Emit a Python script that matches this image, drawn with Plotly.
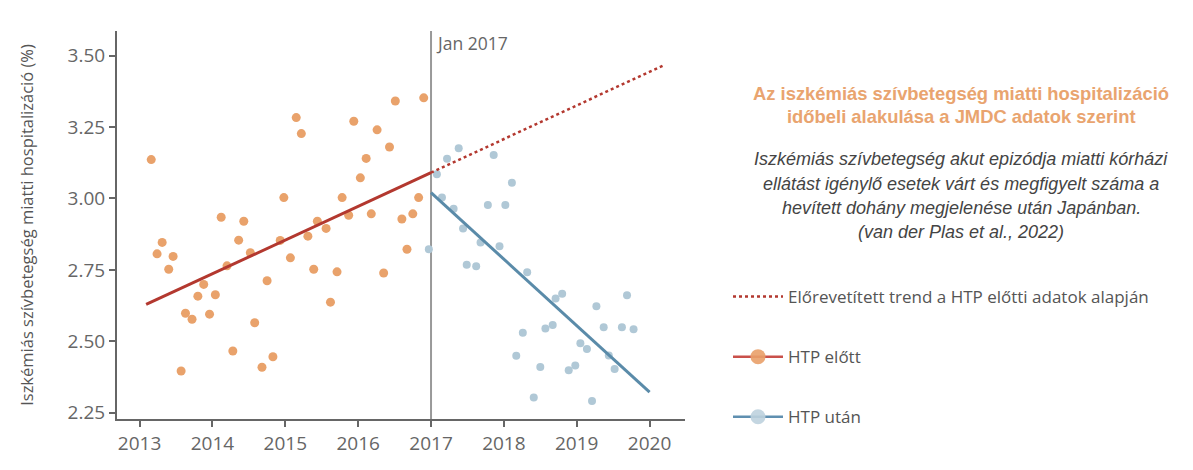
import plotly.graph_objects as go

# ---------------- data ----------------
pre_t = [2013.16, 2013.24, 2013.31, 2013.40, 2013.46, 2013.57, 2013.63, 2013.72, 2013.80, 2013.88,
         2013.96, 2014.04, 2014.12, 2014.20, 2014.28, 2014.36, 2014.43, 2014.52, 2014.58, 2014.68,
         2014.75, 2014.83, 2014.93, 2014.98, 2015.07, 2015.15, 2015.22, 2015.31, 2015.39, 2015.44,
         2015.56, 2015.62, 2015.71, 2015.78, 2015.87, 2015.94, 2016.03, 2016.11, 2016.18, 2016.26,
         2016.35, 2016.43, 2016.51, 2016.60, 2016.67, 2016.75, 2016.83, 2016.90]
pre_v = [3.136, 2.806, 2.846, 2.752, 2.797, 2.396, 2.598, 2.577, 2.658, 2.699,
         2.595, 2.663, 2.934, 2.764, 2.466, 2.854, 2.920, 2.810, 2.565, 2.409,
         2.712, 2.446, 2.853, 3.003, 2.792, 3.283, 3.227, 2.868, 2.752, 2.920,
         2.895, 2.637, 2.743, 3.003, 2.941, 3.270, 3.072, 3.140, 2.946, 3.240,
         2.739, 3.180, 3.341, 2.928, 2.822, 2.946, 3.003, 3.352]

post_t = [2016.97, 2017.08, 2017.15, 2017.22, 2017.31, 2017.38, 2017.44, 2017.49, 2017.62, 2017.68,
          2017.78, 2017.86, 2017.94, 2018.02, 2018.11, 2018.17, 2018.26, 2018.32, 2018.41, 2018.50,
          2018.57, 2018.67, 2018.71, 2018.80, 2018.89, 2018.98, 2019.05, 2019.14, 2019.21, 2019.27,
          2019.37, 2019.44, 2019.52, 2019.62, 2019.69, 2019.78]
post_v = [2.822, 3.085, 3.003, 3.139, 2.964, 3.176, 2.895, 2.768, 2.763, 2.846,
          2.977, 3.152, 2.833, 2.977, 3.055, 2.449, 2.530, 2.742, 2.303, 2.410,
          2.545, 2.557, 2.650, 2.666, 2.399, 2.415, 2.493, 2.473, 2.291, 2.623,
          2.549, 2.450, 2.403, 2.549, 2.661, 2.542]

trend_pre_t = [2013.09, 2017.0]
trend_pre_v = [2.629, 3.090]
proj_t = [2017.0, 2020.21]
proj_v = [3.090, 3.468]
trend_post_t = [2017.0, 2020.0]
trend_post_v = [3.020, 2.322]

x_ticks = [2013, 2014, 2015, 2016, 2017, 2018, 2019, 2020]
x_labels = ["2013", "2014", "2015", "2016", "2017", "2018", "2019", "2020"]
y_ticks = [2.25, 2.50, 2.75, 3.00, 3.25, 3.50]
y_labels = ["2.25", "2.50", "2.75", "3.00", "3.25", "3.50"]

legend_names = ["Előrevetített trend a HTP előtti adatok alapján", "HTP előtt", "HTP után"]
title_lines = ["Az iszkémiás szívbetegség miatti hospitalizáció",
               "időbeli alakulása a JMDC adatok szerint"]
subtitle_lines = ["Iszkémiás szívbetegség akut epizódja miatti kórházi",
                  "ellátást igénylő esetek várt és megfigyelt száma a",
                  "hevített dohány megjelenése után Japánban.",
                  "(van der Plas et al., 2022)"]
y_title = "Iszkémiás szívbetegség miatti hospitalizáció (%)"
vline_label = "Jan 2017"
vline_at = 2017

# ---------------- style ----------------
ORANGE = "#E9A26B"
RED = "#B3382F"
LIGHTBLUE = "#B0C8D6"
BLUE = "#5A8BA9"
AXIS = "#666666"
TICKFONT = "Open Sans"
OFF = 8  # page body margin
W, H = 1193, 470
ML, MR, MT, MB = 109, 516, 23, 59
PW = W - ML - MR
PH = H - MT - MB


def px_to_paper_x(px):
    return (px - OFF - ML) / PW


def px_to_paper_y(py):
    return (H - MB - (py - OFF)) / PH


fig = go.Figure()

fig.add_trace(go.Scatter(x=pre_t, y=pre_v, mode="markers",
                         marker=dict(color=ORANGE, size=9), showlegend=False, hoverinfo="skip"))
fig.add_trace(go.Scatter(x=post_t, y=post_v, mode="markers",
                         marker=dict(color=LIGHTBLUE, size=8), showlegend=False, hoverinfo="skip"))
fig.add_trace(go.Scatter(x=trend_pre_t, y=trend_pre_v, mode="lines",
                         line=dict(color=RED, width=3), showlegend=False, hoverinfo="skip"))
fig.add_trace(go.Scatter(x=trend_post_t, y=trend_post_v, mode="lines",
                         line=dict(color=BLUE, width=3), showlegend=False, hoverinfo="skip"))
fig.add_trace(go.Scatter(x=proj_t, y=proj_v, mode="lines", name=legend_names[0],
                         legendgroup="a", line=dict(color=RED, width=2.5, dash="dot"),
                         hoverinfo="skip"))
# legend-only entries
fig.add_trace(go.Scatter(x=[None], y=[None], mode="lines+markers", name=legend_names[1],
                         legendgroup="b", line=dict(color="#C9504A", width=2.5),
                         marker=dict(color="rgba(233,160,105,0.9)", size=15)))
fig.add_trace(go.Scatter(x=[None], y=[None], mode="lines+markers", name=legend_names[2],
                         legendgroup="c", line=dict(color="#5F8FB0", width=2.5),
                         marker=dict(color="rgba(190,210,222,0.9)", size=15)))

fig.add_shape(type="line", xref="x", yref="paper", x0=vline_at, x1=vline_at, y0=0, y1=1,
              line=dict(color="#999999", width=2), layer="below")
fig.add_annotation(x=vline_at, xref="x", y=px_to_paper_y(43), yref="paper", text=vline_label,
                   showarrow=False, xanchor="left", yanchor="middle", xshift=3,
                   font=dict(family=TICKFONT, size=17.5, color=AXIS))

cx = px_to_paper_x(961)
for line, py in zip(title_lines, [93, 116]):
    fig.add_annotation(x=cx, y=px_to_paper_y(py), xref="paper", yref="paper", text="<b>" + line + "</b>",
                       showarrow=False, xanchor="center", yanchor="middle",
                       font=dict(family="Arial, Liberation Sans", size=18.4, color="#E9A46F"))
for line, py in zip(subtitle_lines, [159, 184, 208, 232]):
    fig.add_annotation(x=cx, y=px_to_paper_y(py), xref="paper", yref="paper", text="<i>" + line + "</i>",
                       showarrow=False, xanchor="center", yanchor="middle",
                       font=dict(family="Arial, Liberation Sans", size=18, color="#444444"))

fig.update_layout(
    width=W, height=H,
    margin=dict(l=ML, r=MR, t=MT, b=MB),
    paper_bgcolor="white", plot_bgcolor="white",
    font=dict(family=TICKFONT, color=AXIS),
    showlegend=True,
    legend=dict(x=px_to_paper_x(728), y=px_to_paper_y(279), xanchor="left", yanchor="top",
                font=dict(family=TICKFONT, size=17, color="#555555"),
                tracegroupgap=35, itemwidth=50, bgcolor="rgba(0,0,0,0)"),
    xaxis=dict(range=[2012.69, 2020.486], tickvals=x_ticks, ticktext=x_labels,
               showline=True, linecolor=AXIS, linewidth=2, ticks="outside", ticklen=6,
               tickwidth=2, tickcolor=AXIS, showgrid=False, zeroline=False,
               tickfont=dict(family=TICKFONT, size=19, color=AXIS)),
    yaxis=dict(range=[2.228, 3.586], tickvals=y_ticks, ticktext=y_labels,
               showline=True, linecolor=AXIS, linewidth=2, ticks="outside", ticklen=6,
               tickwidth=2, tickcolor=AXIS, showgrid=False, zeroline=False,
               tickfont=dict(family=TICKFONT, size=19, color=AXIS),
               title=dict(text=y_title, standoff=30, font=dict(family=TICKFONT, size=16.5, color="#555555"))),
)

fig.write_html("out.html")
